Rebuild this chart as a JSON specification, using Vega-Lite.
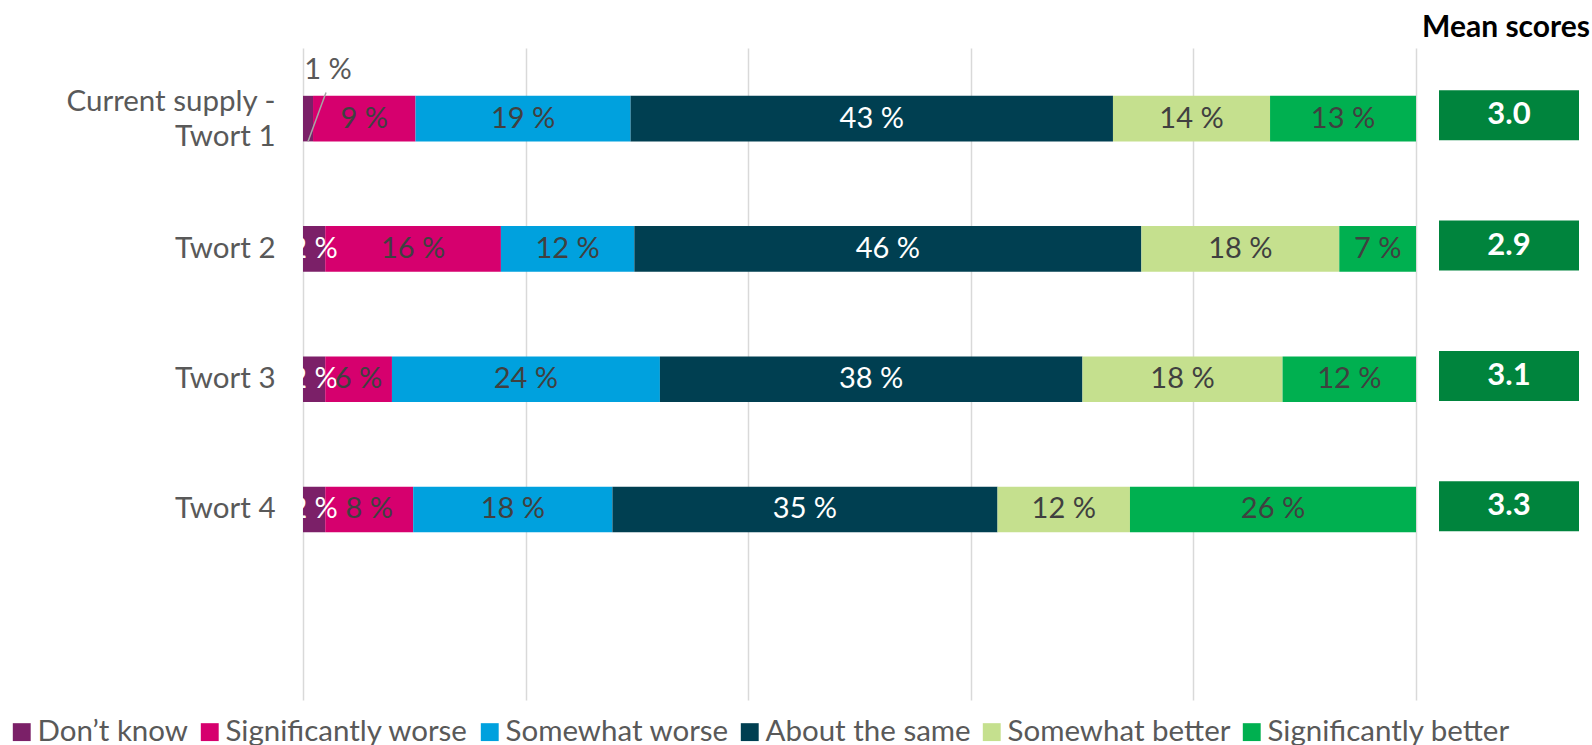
{
  "$schema": "https://vega.github.io/schema/vega-lite/v6.json",
  "background": "white",
  "padding": {"left": 7, "top": 13, "right": 0, "bottom": 0},
  "bounds": "flush",
  "config": {"view": {"stroke": null}, "font": "Lato"},
  "datasets": {
    "resp": [
      {"supply": "Current supply - Twort 1", "answer": "Don’t know", "pct": 0.9},
      {"supply": "Current supply - Twort 1", "answer": "Significantly worse", "pct": 9.2},
      {"supply": "Current supply - Twort 1", "answer": "Somewhat worse", "pct": 19.3},
      {"supply": "Current supply - Twort 1", "answer": "About the same", "pct": 43.3},
      {"supply": "Current supply - Twort 1", "answer": "Somewhat better", "pct": 14.1},
      {"supply": "Current supply - Twort 1", "answer": "Significantly better", "pct": 13.1},
      {"supply": "Twort 2", "answer": "Don’t know", "pct": 2.0},
      {"supply": "Twort 2", "answer": "Significantly worse", "pct": 15.8},
      {"supply": "Twort 2", "answer": "Somewhat worse", "pct": 12.0},
      {"supply": "Twort 2", "answer": "About the same", "pct": 45.6},
      {"supply": "Twort 2", "answer": "Somewhat better", "pct": 17.8},
      {"supply": "Twort 2", "answer": "Significantly better", "pct": 6.9},
      {"supply": "Twort 3", "answer": "Don’t know", "pct": 2.0},
      {"supply": "Twort 3", "answer": "Significantly worse", "pct": 6.0},
      {"supply": "Twort 3", "answer": "Somewhat worse", "pct": 24.1},
      {"supply": "Twort 3", "answer": "About the same", "pct": 38.0},
      {"supply": "Twort 3", "answer": "Somewhat better", "pct": 18.0},
      {"supply": "Twort 3", "answer": "Significantly better", "pct": 12.0},
      {"supply": "Twort 4", "answer": "Don’t know", "pct": 2.0},
      {"supply": "Twort 4", "answer": "Significantly worse", "pct": 7.9},
      {"supply": "Twort 4", "answer": "Somewhat worse", "pct": 17.9},
      {"supply": "Twort 4", "answer": "About the same", "pct": 34.6},
      {"supply": "Twort 4", "answer": "Somewhat better", "pct": 11.9},
      {"supply": "Twort 4", "answer": "Significantly better", "pct": 25.7}
    ],
    "means": [
      {"supply": "Current supply - Twort 1", "mean": 3.0},
      {"supply": "Twort 2", "mean": 2.9},
      {"supply": "Twort 3", "mean": 3.1},
      {"supply": "Twort 4", "mean": 3.3}
    ]
  },
  "spacing": 23,
  "hconcat": [
    {
      "width": 1113,
      "height": 652,
      "data": {"name": "resp"},
      "transform": [
        {"calculate": "indexof(['Don’t know','Significantly worse','Somewhat worse','About the same','Somewhat better','Significantly better'], datum.answer)", "as": "ord"},
        {"stack": "pct", "groupby": ["supply"], "sort": [{"field": "ord", "order": "ascending"}], "offset": "normalize", "as": ["x0", "x1"]},
        {"calculate": "(datum.x0 + datum.x1) / 2", "as": "xm"},
        {"calculate": "format(datum.pct, '.0f') + ' %'", "as": "lbl"}
      ],
      "encoding": {
        "y": {
          "field": "supply", "type": "nominal", "title": null,
          "scale": {"domain": ["Current supply - Twort 1", "Twort 2", "Twort 3", "Twort 4", " "], "paddingInner": 0.65, "paddingOuter": 0.327, "align": 0.561},
          "axis": {
            "domain": false, "ticks": false, "labelFontSize": 29.5, "labelColor": "#595959",
            "labelPadding": 28, "labelLimit": 400, "labelLineHeight": 35,
            "labelOffset": {"condition": {"test": "datum.value == 'Current supply - Twort 1'", "value": -17}, "value": 0},
            "labelExpr": "datum.value == 'Current supply - Twort 1' ? ['Current supply -', 'Twort 1'] : datum.value"
          }
        }
      },
      "layer": [
        {
          "mark": {"type": "bar"},
          "encoding": {
            "x": {
              "field": "x0", "type": "quantitative", "title": null,
              "scale": {"domain": [0, 1], "nice": false},
              "axis": {"values": [0, 0.2, 0.4, 0.6, 0.8, 1], "labels": false, "ticks": false, "domain": false, "grid": true, "gridColor": "#d9d9d9", "gridWidth": 1.5}
            },
            "x2": {"field": "x1"},
            "color": {
              "field": "answer", "type": "nominal",
              "scale": {
                "domain": ["Don’t know", "Significantly worse", "Somewhat worse", "About the same", "Somewhat better", "Significantly better"],
                "range": ["#7B2068", "#D6006E", "#00A1DE", "#003F51", "#C5E08E", "#00B050"]
              },
              "legend": {
                "orient": "none", "legendX": -296, "legendY": 669, "direction": "horizontal", "columns": 6,
                "title": null, "symbolType": "square", "symbolSize": 320, "symbolStrokeWidth": 0,
                "labelFontSize": 29.5, "labelColor": "#595959", "labelLimit": 400, "labelOffset": 1, "columnPadding": 6, "padding": 0
              }
            }
          }
        },
        {
          "transform": [{"filter": "!(datum.supply == 'Current supply - Twort 1' && datum.answer == 'Don’t know')"}],
          "mark": {"type": "text", "fontSize": 29, "baseline": "middle", "align": "center"},
          "encoding": {
            "x": {"field": "xm", "type": "quantitative"},
            "text": {"field": "lbl"},
            "color": {"condition": {"test": "datum.answer == 'About the same' || datum.answer == 'Don’t know'", "value": "white"}, "value": "#404040"}
          }
        },
        {
          "transform": [{"filter": "datum.supply == 'Current supply - Twort 1' && datum.answer == 'Don’t know'"}],
          "mark": {"type": "rule", "color": "#a6a6a6", "strokeWidth": 1.5, "yOffset": 23, "y2Offset": -26, "x2Offset": 18},
          "encoding": {
            "x": {"field": "xm", "type": "quantitative"},
            "x2": {"field": "xm"},
            "y2": {"field": "supply"}
          }
        },
        {
          "transform": [{"filter": "datum.supply == 'Current supply - Twort 1' && datum.answer == 'Don’t know'"}],
          "mark": {"type": "text", "fontSize": 29, "baseline": "middle", "align": "center", "color": "#595959", "dx": 20, "dy": -49},
          "encoding": {
            "x": {"field": "xm", "type": "quantitative"},
            "text": {"field": "lbl"}
          }
        }
      ]
    },
    {
      "width": 140,
      "height": 652,
      "data": {"name": "means"},
      "title": {"text": "Mean scores", "anchor": "end", "fontSize": 30, "fontWeight": "bold", "color": "black", "dx": 11, "offset": 5},
      "encoding": {
        "y": {
          "field": "supply", "type": "nominal", "title": null,
          "scale": {"domain": ["Current supply - Twort 1", "Twort 2", "Twort 3", "Twort 4", " "], "paddingInner": 0.65, "paddingOuter": 0.327, "align": 0.561},
          "axis": null
        }
      },
      "layer": [
        {"mark": {"type": "rect", "color": "#00843D", "height": 50, "yOffset": -3.3}},
        {
          "mark": {"type": "text", "color": "white", "fontSize": 31, "fontWeight": "bold", "baseline": "middle", "align": "center", "yOffset": -3.3},
          "encoding": {"text": {"field": "mean", "type": "quantitative", "format": ".1f"}}
        }
      ]
    }
  ]
}
